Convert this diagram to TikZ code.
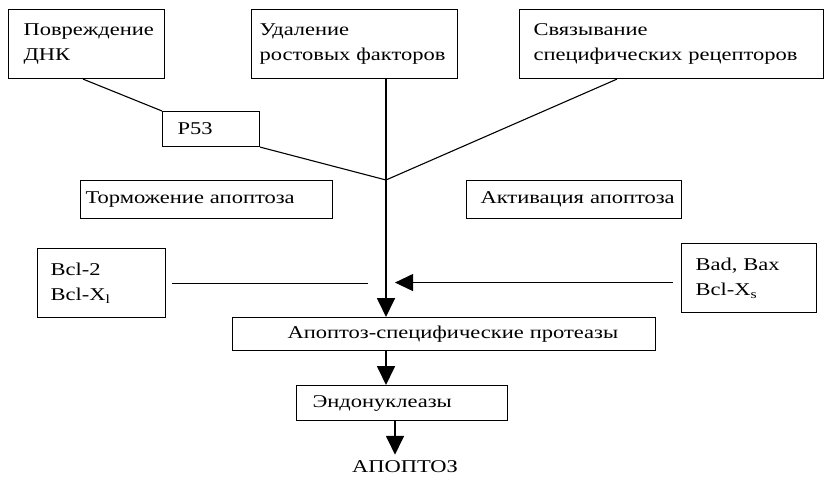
\documentclass[tikz,border=0pt]{standalone}
\usepackage{fontspec}
\setmainfont{Liberation Serif}[FakeStretch=1.25]
\usetikzlibrary{arrows.meta,calc}
\begin{document}
\begin{tikzpicture}[x=1pt,y=-1pt,
  box/.style={draw, line width=1.1pt, anchor=north west, align=left, inner ysep=0pt,
    font=\fontsize{18}{25}\selectfont},
  thin/.style={line width=1.1pt},
  flow/.style={line width=1.8pt, -{Triangle[length=19pt,width=18pt]}},
  inh/.style={line width=1.1pt, -{Triangle[length=18pt,width=17pt]}}]
\useasboundingbox (0,0) rectangle (824,481);
% boxes
\node[box, minimum width=156, minimum height=69, inner xsep=15, text width=126] (dna) at (8,9) {Повреждение\\ДНК};
\node[box, minimum width=206, minimum height=69, inner xsep=8, text width=190] (growth) at (251,9) {Удаление\\ростовых факторов};
\node[box, minimum width=304, minimum height=69, inner xsep=14, text width=276] (recept) at (519,9) {Связывание\\специфических рецепторов};
\node[box, minimum width=97, minimum height=35, inner xsep=15, text width=67] (p53) at (162,111) {P53};
\node[box, minimum width=252, minimum height=38, inner xsep=4, text width=244] (inhib) at (80,180) {\hspace*{1pt}Торможение апоптоза};
\node[box, minimum width=215, minimum height=38, inner xsep=4, text width=207] (activ) at (466,180) {\hspace*{10pt}Активация апоптоза};
\node[box, minimum width=128, minimum height=69, inner xsep=13, text width=102] (bcl) at (37,248) {Bcl-2\\Bcl-X\textsubscript{l}};
\node[box, minimum width=135, minimum height=69, inner xsep=14, text width=107] (bad) at (681,243) {Bad, Bax\\Bcl-X\textsubscript{s}};
\node[box, minimum width=423, minimum height=33, inner xsep=10, text width=403] (prot) at (232,317) {\hspace*{45pt}Апоптоз-специфические протеазы};
\node[box, minimum width=211, minimum height=35, inner xsep=16, text width=179] (endo) at (296,385) {Эндонуклеазы};
\node[font=\fontsize{18}{25}\selectfont, inner sep=0pt] (apo) at (405,467) {АПОПТОЗ};
% junction and connector ends
\coordinate (j) at (386,180);
\coordinate (e) at ($(endo.south west)+(99,0)$);
% connectors
\draw[thin] ($(dna.south west)+(75,0)$) -- (p53.north west);
\draw[thin] (p53.south east) -- (j);
\draw[thin] ($(recept.south west)+(98,0)$) -- (j);
\draw[flow] (growth.south -| j) -- (prot.north -| j);
\draw[thin] ($(bcl.east)+(6,0)$) -- ($(bcl.east)+(202,0)$);
\draw[inh] ($(bad.west)+(-8,4.5)$) -- ($(bad.west)+(-286,4.5)$);
\draw[flow] (prot.south -| j) -- (endo.north -| j);
\draw[flow, shorten >=6pt] (e) -- (e |- apo.north);
\end{tikzpicture}
\end{document}
